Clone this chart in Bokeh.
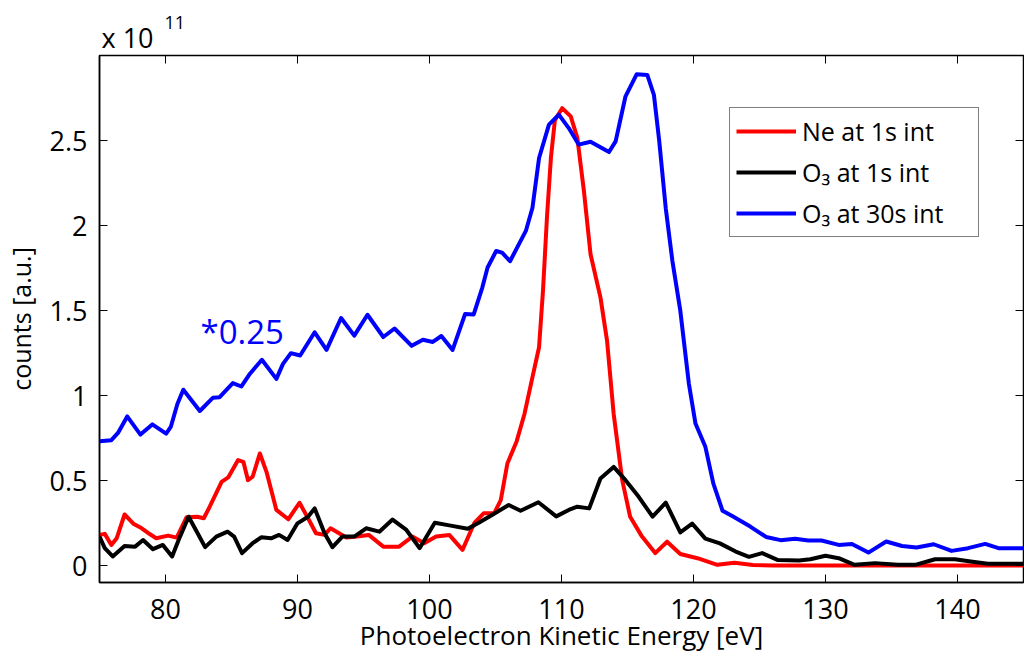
from bokeh.plotting import figure
from bokeh.models import (Range1d, LinearAxis, FixedTicker, NumeralTickFormatter,
                          Label, Legend, LegendItem, Title)
from bokeh.embed import file_html
from bokeh.resources import INLINE

# ---------------- data (counts in units of 1e11) ----------------
ne_x = [75.0, 75.4, 75.9, 76.3, 76.9, 77.6, 78.2, 78.8, 79.3, 80.2, 80.85, 81.6, 82.4, 82.9,
        83.35, 84.25, 84.75, 85.5, 85.9, 86.25, 86.6, 87.15, 87.65, 88.4, 89.3, 90.15, 90.8,
        91.4, 92.05, 92.5, 93.7, 94.5, 95.4, 96.5, 97.7, 98.7, 99.6, 100.5, 101.5, 102.5,
        103.4, 104.1, 104.9, 105.4, 105.9, 106.6, 107.2, 107.8, 108.3, 108.6, 108.9, 109.2,
        109.5, 110.05, 110.7, 111.2, 111.7, 112.2, 112.95, 113.45, 113.95, 114.6, 115.2,
        116.1, 117.1, 118.0, 119.0, 120.3, 121.8, 123.1, 124.5, 126.0, 130.0, 135.0, 140.0, 145.0]
ne_y = [0.18, 0.186, 0.121, 0.16, 0.30, 0.244, 0.219, 0.185, 0.16, 0.176, 0.164, 0.284, 0.287,
        0.278, 0.346, 0.492, 0.518, 0.62, 0.61, 0.502, 0.522, 0.659, 0.551, 0.327, 0.272,
        0.369, 0.278, 0.19, 0.18, 0.219, 0.165, 0.17, 0.18, 0.111, 0.111, 0.17, 0.131, 0.17,
        0.18, 0.092, 0.25, 0.307, 0.307, 0.385, 0.60, 0.73, 0.893, 1.108, 1.284, 1.62, 2.05,
        2.40, 2.62, 2.69, 2.642, 2.515, 2.202, 1.831, 1.577, 1.323, 0.893, 0.502, 0.287,
        0.17, 0.073, 0.14, 0.068, 0.043, 0.004, 0.016, 0.003, 0.0, 0.0, 0.0, 0.0, 0.0]

o3_1s_x = [75.0, 75.4, 76.0, 76.9, 77.7, 78.3, 79.05, 79.8, 80.5, 81.1, 81.75, 82.3, 83.0,
           83.85, 84.7, 85.2, 85.8, 86.6, 87.25, 88.0, 88.6, 89.25, 90.0, 90.8, 91.3, 92.05,
           92.65, 93.4, 94.3, 95.2, 96.2, 97.2, 98.25, 99.25, 100.4, 101.5, 102.9, 103.8,
           104.8, 106.0, 106.9, 108.25, 109.6, 110.55, 111.2, 112.1, 112.95, 113.95, 114.85,
           115.85, 116.9, 117.9, 119.0, 119.9, 120.9, 122.0, 123.2, 124.2, 125.2, 126.4,
           128.0, 128.85, 130.0, 131.0, 132.2, 133.75, 135.5, 136.8, 138.3, 139.8, 141.0,
           142.3, 145.0]
o3_1s_y = [0.17, 0.102, 0.053, 0.115, 0.111, 0.15, 0.096, 0.121, 0.053, 0.17, 0.287, 0.209,
           0.108, 0.17, 0.199, 0.17, 0.073, 0.131, 0.166, 0.16, 0.18, 0.15, 0.248, 0.287,
           0.336, 0.19, 0.108, 0.17, 0.17, 0.219, 0.199, 0.27, 0.209, 0.102, 0.252, 0.236,
           0.216, 0.255, 0.30, 0.356, 0.322, 0.372, 0.289, 0.327, 0.346, 0.336, 0.512, 0.58,
           0.502, 0.404, 0.287, 0.37, 0.195, 0.246, 0.158, 0.13, 0.082, 0.051, 0.073, 0.032,
           0.029, 0.037, 0.057, 0.043, 0.004, 0.014, 0.004, 0.004, 0.037, 0.037, 0.023, 0.01,
           0.01]

o3_30s_x = [75.0, 75.9, 76.4, 77.1, 78.1, 79.0, 80.05, 80.4, 80.9, 81.35, 82.6, 83.6, 84.1,
            85.1, 85.75, 86.4, 87.3, 88.4, 88.9, 89.5, 90.2, 91.3, 92.2, 93.3, 94.3, 95.3,
            96.5, 97.35, 98.65, 99.5, 100.25, 100.9, 101.75, 102.7, 103.35, 104.0, 104.4,
            105.05, 105.5, 106.1, 107.3, 107.8, 108.3, 109.05, 109.8, 110.55, 111.3, 112.2,
            113.6, 114.1, 114.85, 115.7, 116.5, 117.0, 117.4, 117.9, 118.4, 119.0, 119.65,
            120.15, 120.9, 121.5, 122.2, 122.9, 124.3, 125.5, 126.6, 127.7, 128.7, 129.7,
            131.0, 132.0, 133.25, 134.6, 135.8, 136.9, 138.2, 139.55, 140.8, 142.1, 143.1, 145.0]
o3_30s_y = [0.731, 0.737, 0.78, 0.877, 0.77, 0.83, 0.776, 0.815, 0.95, 1.034, 0.909, 0.987,
            0.99, 1.073, 1.053, 1.128, 1.21, 1.098, 1.186, 1.249, 1.235, 1.372, 1.268, 1.456,
            1.352, 1.475, 1.344, 1.394, 1.292, 1.328, 1.315, 1.35, 1.268, 1.48, 1.477, 1.635,
            1.753, 1.85, 1.84, 1.79, 1.968, 2.104, 2.397, 2.593, 2.652, 2.573, 2.476, 2.493,
            2.432, 2.495, 2.76, 2.89, 2.886, 2.769, 2.5, 2.10, 1.792, 1.499, 1.069, 0.835,
            0.698, 0.483, 0.322, 0.292, 0.229, 0.168, 0.149, 0.157, 0.147, 0.147, 0.121,
            0.127, 0.076, 0.141, 0.115, 0.106, 0.125, 0.086, 0.102, 0.127, 0.102, 0.102]

x_ticks = [80, 90, 100, 110, 120, 130, 140]
y_ticks = [0, 0.5, 1, 1.5, 2, 2.5]
series_labels = ["Ne at 1s int", "O\u2083 at 1s int", "O\u2083 at 30s int"]

FONT = "Open Sans"

p = figure(width=1024, height=657, output_backend="svg", toolbar_location=None,
           x_range=Range1d(75, 145), y_range=Range1d(-0.1, 3.0),
           min_border_left=98, min_border_right=1, min_border_top=55, min_border_bottom=75)
p.background_fill_color = "white"
p.border_fill_color = "white"
p.outline_line_color = "black"
p.outline_line_width = 1.5
p.xgrid.visible = False
p.ygrid.visible = False

def style_axis(ax, labels=True):
    ax.major_tick_in = 8
    ax.major_tick_out = 0
    ax.minor_tick_line_color = None
    ax.major_tick_line_color = "black"
    ax.major_tick_line_width = 1
    ax.axis_line_color = "black"
    ax.axis_line_width = 1.5
    ax.major_label_text_font = FONT
    ax.major_label_text_color = "black"
    ax.axis_label_text_font = FONT
    ax.axis_label_text_font_style = "normal"
    ax.axis_label_text_color = "black"
    if labels:
        ax.major_label_text_font_size = "27px"
        ax.major_label_standoff = 12
    else:
        ax.major_label_text_font_size = "0px"
        ax.major_label_text_color = None
        ax.major_label_standoff = 0
        ax.axis_line_color = None

xax = p.xaxis[0]
yax = p.yaxis[0]
style_axis(xax)
style_axis(yax)
xax.ticker = FixedTicker(ticks=x_ticks)
yax.ticker = FixedTicker(ticks=y_ticks)
yax.formatter = NumeralTickFormatter(format="0.[0]")
xax.major_label_standoff = 16
xax.axis_label = "Photoelectron Kinetic Energy [eV]"
xax.axis_label_text_font_size = "26px"
xax.axis_label_standoff = -5
yax.axis_label = "counts [a.u.]"
yax.axis_label_text_font_size = "25px"
yax.axis_label_standoff = 9

top_ax = LinearAxis(ticker=FixedTicker(ticks=x_ticks))
right_ax = LinearAxis(ticker=FixedTicker(ticks=y_ticks))
style_axis(top_ax, labels=False)
style_axis(right_ax, labels=False)
p.add_layout(top_ax, "above")
p.add_layout(right_ax, "right")

# exponent marker above the axes (as titles so it stays outside the frame)
exp_base = Title(text="x 10", text_font=FONT, text_font_size="27px", text_font_style="normal",
                 text_color="black", align="left", offset=2, standoff=0, vertical_align="bottom")
exp_pow = Title(text="11", text_font=FONT, text_font_size="18px", text_font_style="normal",
                text_color="black", align="left", offset=65, standoff=-24, vertical_align="bottom")
p.add_layout(exp_base, "above")
p.add_layout(exp_pow, "above")

lw = 4
r_ne = p.line(ne_x, ne_y, line_color="#FF0000", line_width=lw, line_join="round")
r_o1 = p.line(o3_1s_x, o3_1s_y, line_color="#000000", line_width=lw, line_join="round")
r_o30 = p.line(o3_30s_x, o3_30s_y, line_color="#0000FF", line_width=lw, line_join="round")

legend = Legend(items=[LegendItem(label=series_labels[0], renderers=[r_ne]),
                       LegendItem(label=series_labels[1], renderers=[r_o1]),
                       LegendItem(label=series_labels[2], renderers=[r_o30])],
                location=(630, 345), orientation="vertical")
legend.label_text_font = FONT
legend.label_text_font_size = "25px"
legend.label_text_color = "black"
legend.glyph_width = 60
legend.glyph_height = 20
legend.label_standoff = 6
legend.label_width = 170
legend.padding = 6
legend.spacing = 7
legend.margin = 0
legend.border_line_color = "black"
legend.border_line_width = 1.5
legend.background_fill_color = "white"
legend.background_fill_alpha = 1.0
p.add_layout(legend, "center")

p.add_layout(Label(x=82.65, y=1.376, text="*0.25", text_font=FONT, text_font_size="33px",
                   text_color="#0000FF", text_baseline="alphabetic"))

open("out.html", "w").write(file_html(p, INLINE))
